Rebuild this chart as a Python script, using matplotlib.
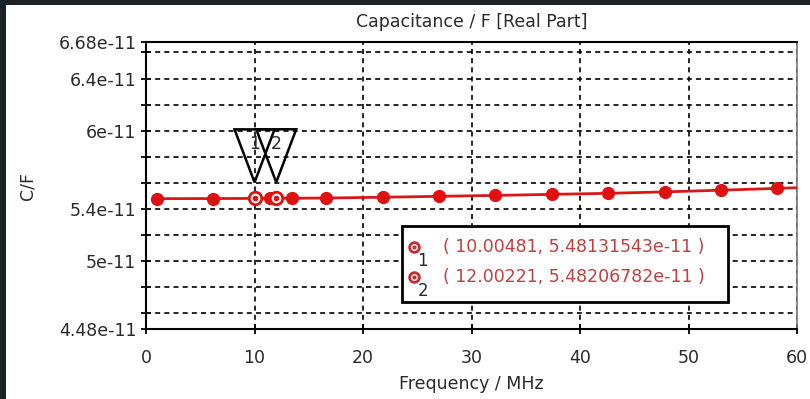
import numpy as np
import matplotlib.pyplot as plt
from matplotlib.patches import Rectangle, Polygon
from matplotlib.transforms import ScaledTranslation

# ------------------------------ DATA ------------------------------
freq = [1.0, 6.2, 11.4, 13.5, 16.6, 21.8, 27.0, 32.2, 37.4, 42.6, 47.8, 53.0, 58.2]
cap = [5.479, 5.480, 5.4815, 5.4823, 5.484, 5.490, 5.497, 5.504, 5.512,
       5.520, 5.531, 5.544, 5.558]
cap = [c * 1e-11 for c in cap]
# line continues to the right edge
line_freq = freq + [60.0]
line_cap = cap + [5.563e-11]

mark_freq = [10.00481, 12.00221]
mark_cap = [5.48131543e-11, 5.48206782e-11]
mark_names = ['1', '2']
mark_text = ['( 10.00481, 5.48131543e-11 )', '( 12.00221, 5.48206782e-11 )']

ytick_vals = [4.48e-11, 4.6e-11, 4.8e-11, 5e-11, 5.2e-11, 5.4e-11, 5.6e-11,
              5.8e-11, 6e-11, 6.2e-11, 6.4e-11, 6.6e-11, 6.68e-11]
ytick_labels = ['4.48e-11', '', '', '5e-11', '', '5.4e-11', '', '', '6e-11',
                '', '6.4e-11', '', '6.68e-11']
xtick_vals = [0, 10, 20, 30, 40, 50, 60]

# ------------------------------ PLOT ------------------------------
plt.rcParams['font.family'] = ['DejaVu Sans']
fig = plt.figure(figsize=(8.1, 3.99), dpi=100, facecolor='#1c2326')
bg = Rectangle((6 / 810, 0), 1, 1 - 5 / 399, transform=fig.transFigure,
               facecolor='white', edgecolor='none', zorder=-10)
fig.add_artist(bg)
ax = fig.add_axes([146 / 810, 1 - 329 / 399, 651 / 810, 287 / 399])
ax.set_zorder(1)

red = '#e01010'
ax.plot(line_freq, line_cap, '-', color='#d81818', lw=2, zorder=3)
ax.plot(freq, cap, 'o', color=red, ms=8.5, zorder=4)

ax.set_xlim(0, 60)
ax.set_ylim(4.48e-11, 6.68e-11)
ax.set_xticks(xtick_vals)
ax.set_yticks(ytick_vals)
ax.set_yticklabels(ytick_labels)
ax.tick_params(direction='inout', length=7, width=1.3, labelsize=12.5,
               colors='black', labelcolor='#2a2a2a')
ax.tick_params(axis='x', pad=11)
ax.grid(True, color='black', ls=(0, (3, 2.5)), lw=1.2)
for s in ['left', 'bottom', 'top']:
    ax.spines[s].set_linewidth(1.5)
ax.spines['right'].set_color('#777777')
ax.spines['right'].set_linewidth(1.2)

ax.set_title('Capacitance / F [Real Part]', fontsize=12.5, color='#2a2a2a', pad=11)
ax.set_xlabel('Frequency / MHz', fontsize=12.5, color='#2a2a2a', labelpad=6)
ax.set_ylabel('C/F', fontsize=12.5, color='#2a2a2a', labelpad=16)

# markers with triangle flags
for fx, cy, name in zip(mark_freq, mark_cap, mark_names):
    ax.plot(fx, cy, 'o', ms=9, mfc='white', mec=red, mew=2, zorder=6)
    ax.plot(fx, cy, 'o', ms=3, color=red, zorder=7)
    tr = fig.dpi_scale_trans + ScaledTranslation(fx, cy, ax.transData)
    ax.add_patch(Polygon([(-0.2, 0.69), (0.2, 0.69), (0, 0.16)], closed=True,
                         fill=False, edgecolor='black', lw=1.8, transform=tr,
                         clip_on=False, zorder=5))
    ax.text(0, 0.54, name, transform=tr, ha='center', va='center',
            fontsize=12.5, color='#2a2a2a', zorder=6)

# marker value box
ax.add_patch(Rectangle((0.394, 0.095), 0.4995, 0.264, transform=ax.transAxes,
                       facecolor='white', edgecolor='black', lw=2, zorder=8))
for i, (name, txt) in enumerate(zip(mark_names, mark_text)):
    yy = [0.2868, 0.181][i]
    ax.plot(0.4117, yy, 'o', ms=7, mfc='white', mec='#c03030', mew=2,
            transform=ax.transAxes, zorder=9)
    ax.plot(0.4117, yy, 'o', ms=2, color='#c03030', transform=ax.transAxes, zorder=10)
    ax.text(0.425, yy - 0.05, name, transform=ax.transAxes, ha='center', va='center',
            fontsize=12, color='#2a2a2a', zorder=9)
    ax.text(0.456, yy, txt, transform=ax.transAxes, ha='left', va='center',
            fontsize=12.5, color='#c04040', zorder=9)

plt.savefig('out.png', dpi=100, facecolor=fig.get_facecolor())
